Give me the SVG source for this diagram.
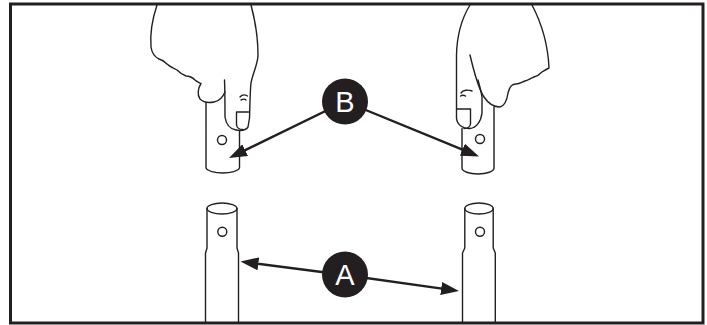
<svg xmlns="http://www.w3.org/2000/svg" width="707" height="325" viewBox="0 0 707 325">
  <style>
    .ink { fill: none; stroke: #231f20; stroke-width: 1.4; stroke-linecap: round; stroke-linejoin: round; }
    .lead { fill: none; stroke: #231f20; stroke-width: 2.4; }
    .badge { fill: #231f20; }
    .badge-text { fill: #ffffff; font-family: "Liberation Sans", Arial, sans-serif; font-size: 29px; text-anchor: middle; }
  </style>
  <defs>
    <marker id="arrow" viewBox="0 0 18 13" refX="8" refY="6.5" markerWidth="18" markerHeight="13" markerUnits="userSpaceOnUse" orient="auto">
      <path d="M0,0 L18,6.5 L0,13 Z" fill="#231f20"/>
    </marker>
  </defs>

  <rect x="0" y="0" width="707" height="325" fill="#ffffff"/>
  <rect x="10.5" y="4" width="692.5" height="319" fill="none" stroke="#231f20" stroke-width="3"/>

  <!-- left hand holding the upper left tube -->
  <g id="hand-left">
    <path class="ink" d="M157,5 C152,20 150,35 151,47 C152,54 155,57 159,59 C163,60 165,62 167,64 C170,67 174,68 177,70 C180,73 183,75 186,76 C190,76 193,78 195,80 C197,82 199,82.5 201,83.5 C198,88 197,95 200,99 C203,102 209,103 214,102 C219,101 223,97 225,92"/>
    <path class="ink" d="M224.5,80 C225,92 225,105 225,117 C226,124 230,129 236,130 C241,131 246,130 248,127 L249.5,118 C250,105 250,92 251,83 C253,72 258,64 258,55 C258,38 255,20 251,5"/>
    <path class="ink" d="M236.5,112 L248.5,112 M236.5,112 L236.5,125 C237,128 240,129.5 243,129.5"/>
    <path class="ink" d="M240,97 C242,94.5 245,94.5 247.5,96 M241,100 C243,99 245,99 246,100"/>
  </g>
  <g id="tube-upper-left">
    <path class="ink" d="M206,102.5 L206,168 A17,6 0 0 0 239.5,168 L239.5,130.5"/>
    <circle class="ink" cx="222" cy="140" r="4.5"/>
  </g>

  <!-- right hand holding the upper right tube -->
  <g id="hand-right">
    <path class="ink" d="M470,5 C462,18 457,32 456.5,55 L456.5,118 C457,125 463,129 470,128.5 C476,128 481,122 482,113 L482,97 C481,90 479,84 478,80"/>
    <path class="ink" d="M470,55 C474,72 478,88 484,97 C488,103 494,107 500,107 C505,106 507,100 508,93 C510,86 512,84 516,84 C520,84 522,82 525,81 C529,80 531,78 534,77 C538,76 540,74 542,72 C545,70 547,69 549,68 C548,45 542,24 532,5"/>
    <path class="ink" d="M457,109 L470.5,109 L470.5,124 C470,127 467,128.5 464,128.5"/>
    <path class="ink" d="M461,93 C463,90 468,89.5 472,91 M460.5,96 C462,95 464,95 465.5,96"/>
  </g>
  <g id="tube-upper-right">
    <path class="ink" d="M462,128.5 L462,168 A16,6 0 0 0 494,168 L494,107"/>
    <circle class="ink" cx="480" cy="139" r="4.5"/>
  </g>

  <!-- lower tubes, standing -->
  <g id="tube-lower-left">
    <ellipse class="ink" cx="222" cy="208.5" rx="15" ry="5.5"/>
    <path class="ink" d="M207,208.5 L207,248 L205.5,253 L205.5,322 M237,208.5 L237,248 L238.5,253 L238.5,322"/>
    <circle class="ink" cx="222.3" cy="231.7" r="4.5"/>
  </g>
  <g id="tube-lower-right">
    <ellipse class="ink" cx="479" cy="208.5" rx="14.2" ry="5.5"/>
    <path class="ink" d="M464.8,208.5 L464.8,248 L462.5,253 L462.5,322 M493.2,208.5 L493.2,248 L495.3,253 L495.3,322"/>
    <circle class="ink" cx="480" cy="231.7" r="4.5"/>
  </g>

  <!-- leader lines -->
  <g id="connectors">
    <path class="lead" d="M345,101.5 L238,153.6" marker-end="url(#arrow)"/>
    <path class="lead" d="M345,101.5 L469.8,152.7" marker-end="url(#arrow)"/>
    <path class="lead" d="M345,275 L250.4,262.8" marker-end="url(#arrow)"/>
    <path class="lead" d="M345,275 L449.1,289.6" marker-end="url(#arrow)"/>
  </g>

  <g id="label-b">
    <circle class="badge" cx="345" cy="101.5" r="23"/>
    <text class="badge-text" x="345" y="111.8">B</text>
  </g>
  <g id="label-a">
    <circle class="badge" cx="345" cy="274.5" r="23"/>
    <text class="badge-text" x="345" y="284.8">A</text>
  </g>
</svg>
